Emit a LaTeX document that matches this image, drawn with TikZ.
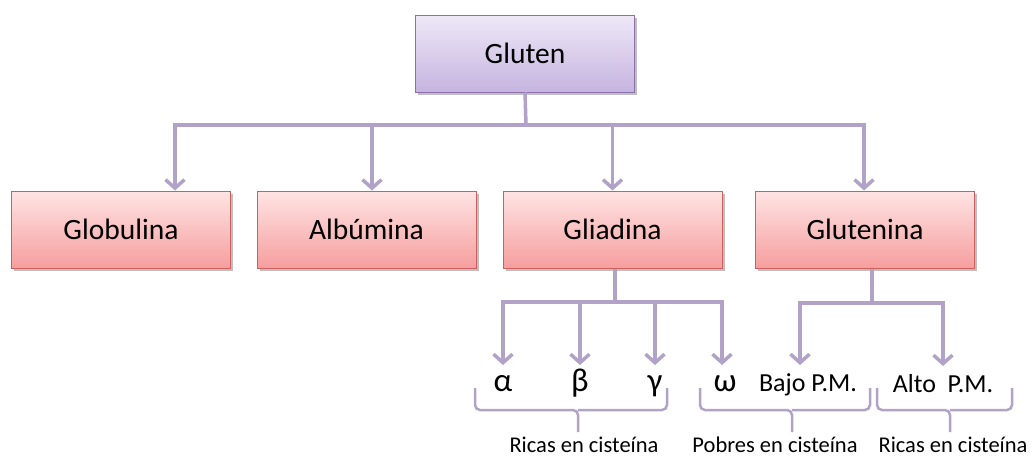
\documentclass[tikz,border=0pt]{standalone}
\usepackage{fontspec}
\setmainfont{Carlito}
\usetikzlibrary{arrows.meta, shadows}
\definecolor{linkpurple}{RGB}{179,162,199}
\definecolor{glutentop}{RGB}{238,232,247}
\definecolor{glutenbot}{RGB}{198,180,224}
\definecolor{glutenline}{RGB}{140,112,172}
\definecolor{fractop}{RGB}{255,228,228}
\definecolor{fracbot}{RGB}{246,158,158}
\definecolor{fracline}{RGB}{204,96,94}

\begin{document}
\begin{tikzpicture}[x=1pt, y=-1pt,
        box/.style={minimum width=219pt, minimum height=77pt, inner sep=0pt, line width=1pt,
            font=\fontsize{29.5}{29.5}\selectfont,
            drop shadow={shadow xshift=2.5pt, shadow yshift=-2.5pt, fill=black, opacity=0.25}},
        rootbox/.style={box, draw=glutenline, top color=glutentop, bottom color=glutenbot},
        fracbox/.style={box, draw=fracline, top color=fractop, bottom color=fracbot},
        link/.style={linkpurple, line width=3.5pt},
        arrow/.style={link, -{Straight Barb[length=8.5pt, width=19pt]}},
        brace/.style={linkpurple, line width=2.5pt, rounded corners=5pt},
        sub/.style={anchor=north, inner sep=0pt, text height=26pt, text depth=6pt},
        greek/.style={sub, font=\fontsize{33}{33}\selectfont},
        weight/.style={sub, font=\fontsize{26}{26}\selectfont},
        group/.style={anchor=base, inner sep=0pt, font=\fontsize{22.5}{22.5}\selectfont}]
        \useasboundingbox (0,0) rectangle (1033,456);

        % proteinas del gluten
        \node[rootbox] (gluten) at (525,53.5) {Gluten};
        \node[fracbox] (globulina) at (121,229.5) {Globulina};
        \node[fracbox] (albumina) at (366.5,229.5) {Albúmina};
        \node[fracbox] (gliadina) at (612.5,229.5) {Gliadina};
        \node[fracbox] (glutenina) at (865,229.5) {Glutenina};

        \coordinate (bus) at (526,125);
        \draw[link] (gluten.south) -- (bus);
        \draw[arrow] (bus) -| ([xshift=54pt]globulina.north);
        \draw[arrow] (bus) -| ([xshift=5.5pt]albumina.north);
        \draw[arrow] (bus) -| (gliadina.north);
        \draw[arrow] (bus) -| ([xshift=-1pt]glutenina.north);

        % fracciones de la gliadina
        \node[greek] (alpha) at (503,365) {α};
        \node[greek] (beta) at (580,365) {β};
        \node[greek] (gamma) at (655,365) {γ};
        \node[greek] (omega) at (725,365) {ω};

        \coordinate (gbus) at (615,302);
        \draw[link] ([xshift=2.5pt]gliadina.south) -- (gbus);
        \draw[arrow] (gbus) -| (alpha.north);
        \draw[arrow] (gbus) -| (beta.north);
        \draw[arrow] (gbus) -| (gamma.north);
        \draw[arrow] (gbus) -| ([xshift=-3pt]omega.north);

        % subunidades de la glutenina
        \node[weight] (bajo) at (808,365) {Bajo P.M.};
        \node[weight] (alto) at (943,366) {Alto~ P.M.};

        \coordinate (tbus) at (872,303);
        \draw[link] ([xshift=7pt]glutenina.south) -- (tbus);
        \draw[arrow] (tbus) -| ([xshift=-8pt]bajo.north);
        \draw[arrow] (tbus) -| (alto.north);

        % llaves
        \draw[brace] (475,388) |- (578,410) -- (578,432);
        \draw[brace] (667,388) |- (578,410);
        \draw[brace] (700,388) |- (792,410) -- (792,432);
        \draw[brace] (870,388) |- (792,410);
        \draw[brace] (877,388) |- (950,410) -- (950,432);
        \draw[brace] (1012,388) |- (950,410);

        \node[group] (ricasA) at (584,452) {Ricas en cisteína};
        \node[group] (pobres) at (775,452) {Pobres en cisteína};
        \node[group] (ricasB) at (953,452) {Ricas en cisteína};
    \end{tikzpicture}
\end{document}
